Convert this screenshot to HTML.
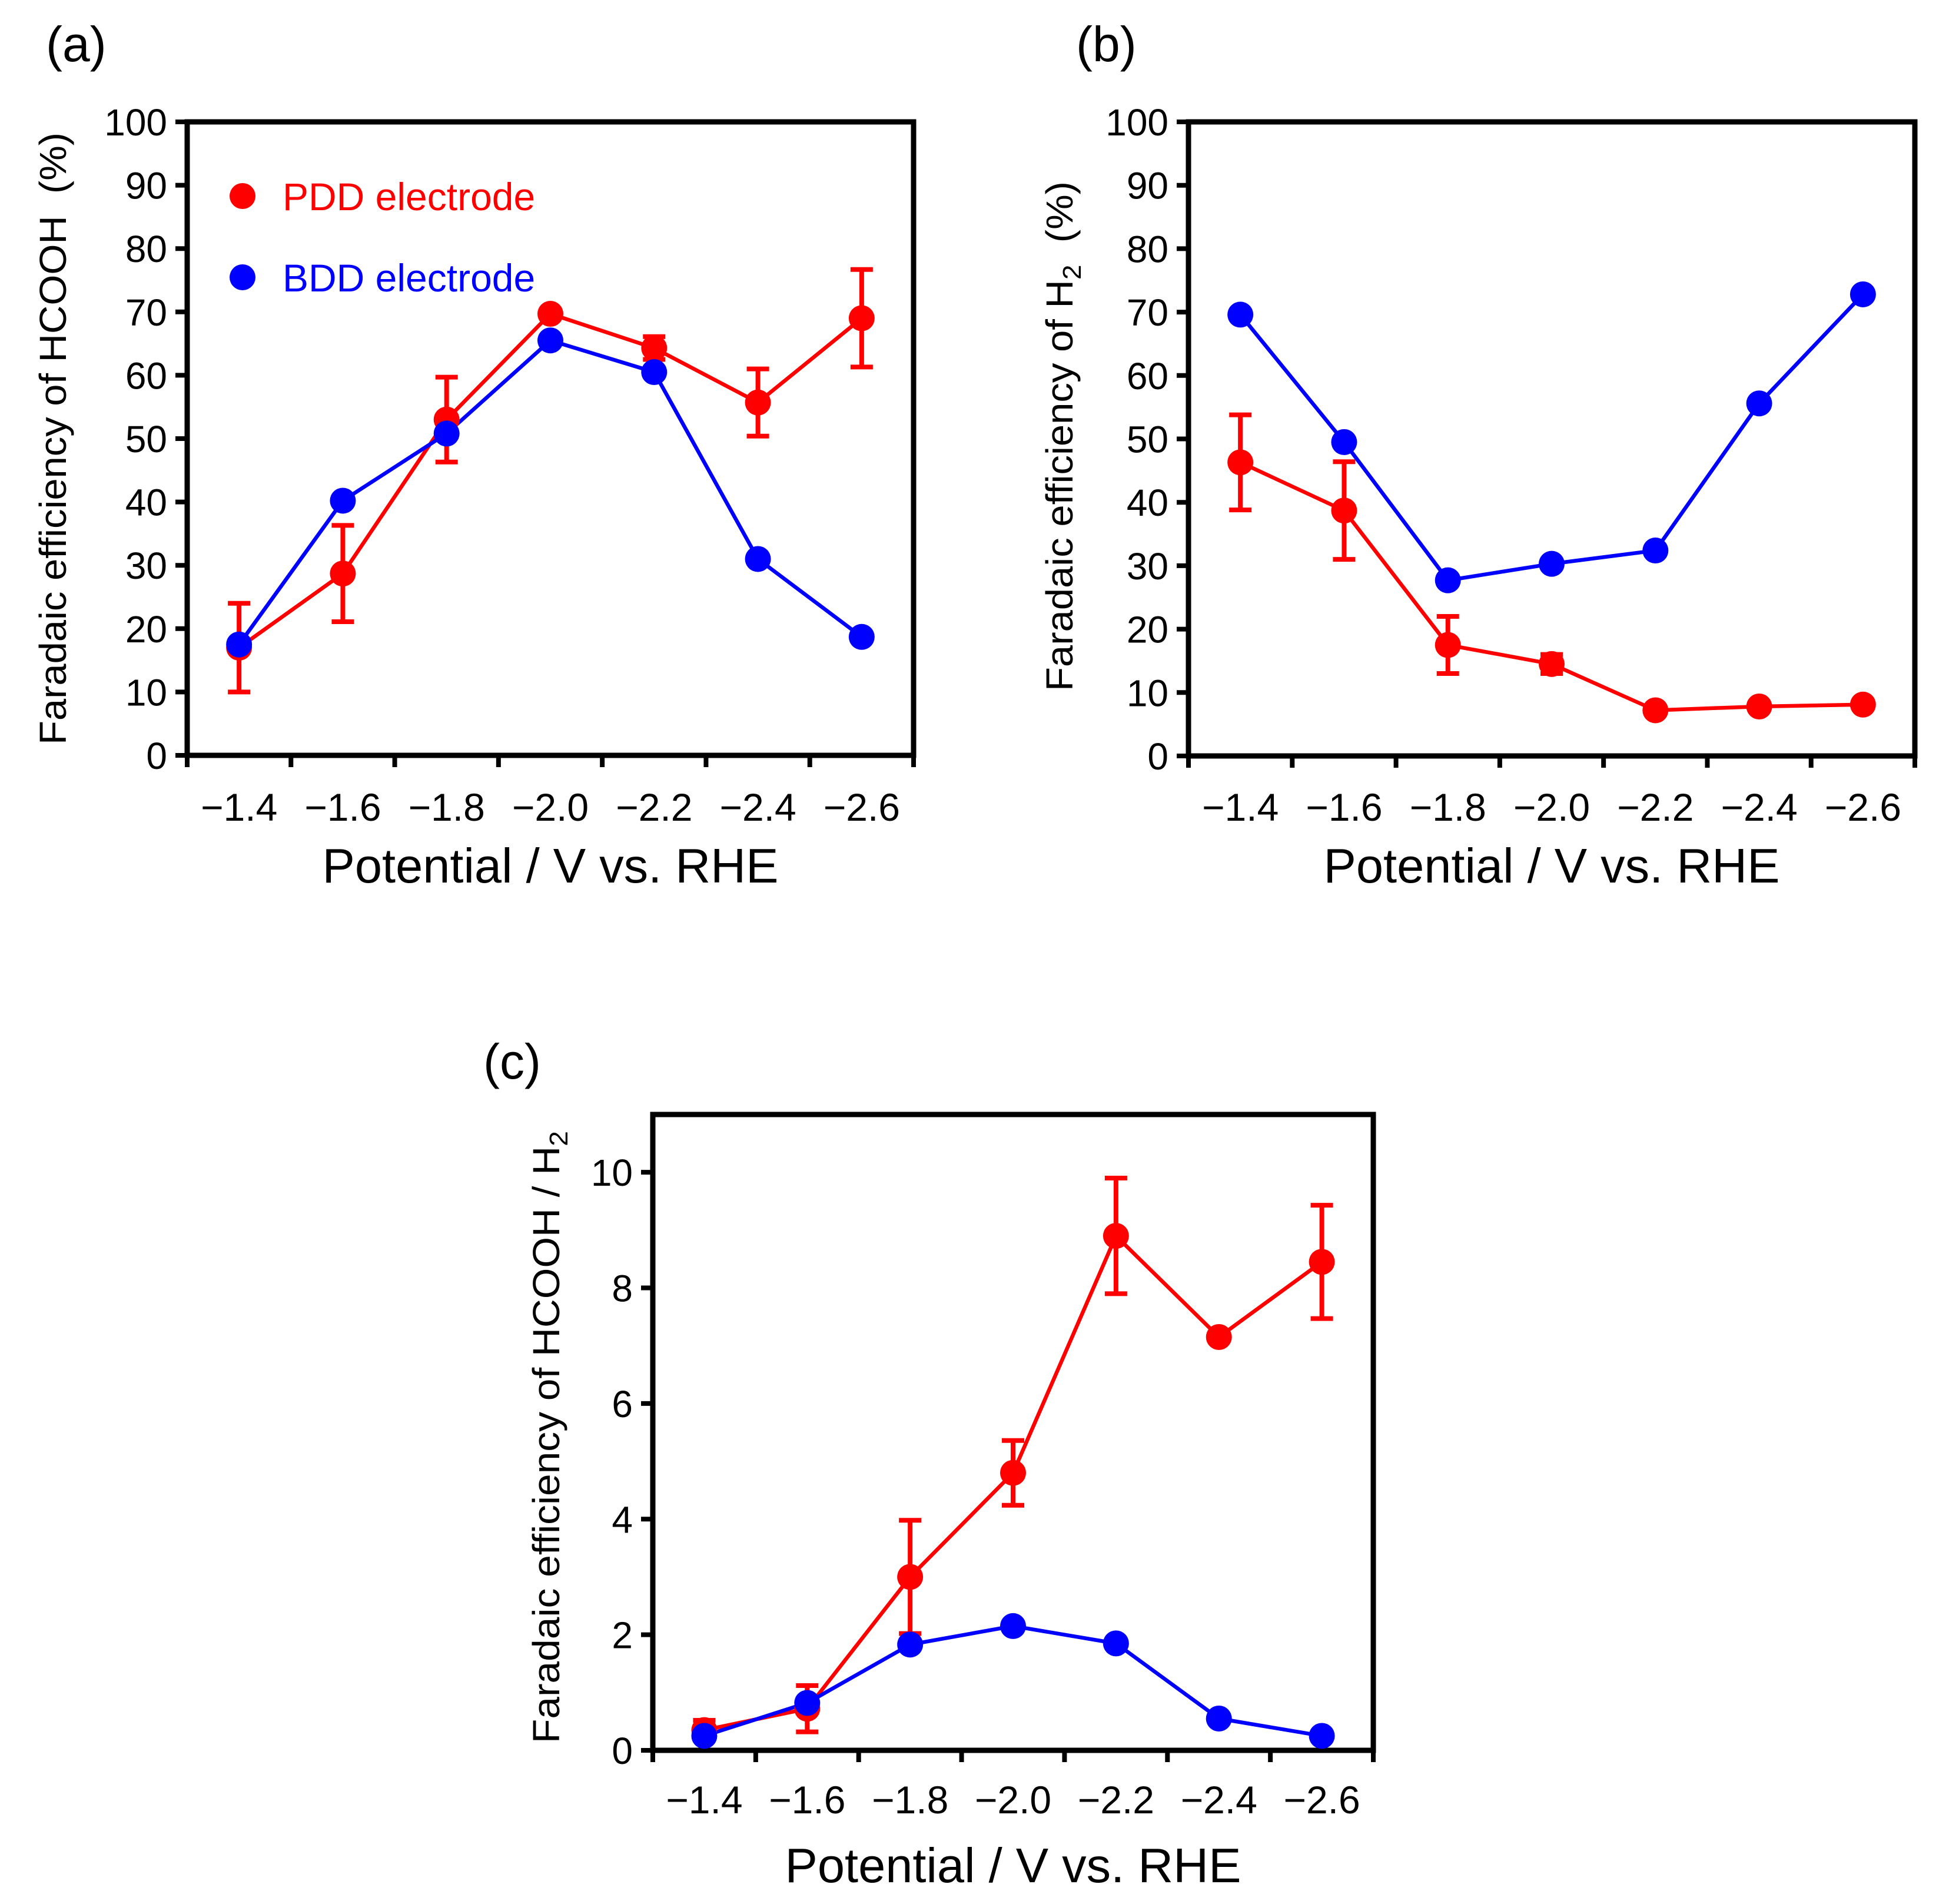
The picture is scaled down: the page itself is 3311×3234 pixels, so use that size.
<!DOCTYPE html>
<html><head><meta charset="utf-8"><style>
html,body{margin:0;padding:0;background:#fff;}
svg{display:block;font-family:"Liberation Sans",Arial,sans-serif;}
</style></head><body>
<svg id="fig" width="3311" height="3234" viewBox="0 0 3311 3234" xmlns="http://www.w3.org/2000/svg">
<text x="78" y="104" font-size="84">(a)</text>
<text x="1828" y="104" font-size="84">(b)</text>
<text x="821" y="1832" font-size="84">(c)</text>
<g>
<circle cx="412" cy="333" r="22" fill="#ff0000"/>
<text x="480" y="357" font-size="66" fill="#ff0000">PDD electrode</text>
<circle cx="412" cy="471" r="22" fill="#0000ff"/>
<text x="480" y="495" font-size="66" fill="#0000ff">BDD electrode</text>
</g>
</svg>
<script>
const categories = ["\u22121.4","\u22121.6","\u22121.8","\u22122.0","\u22122.2","\u22122.4","\u22122.6"];
const aPdd = [17, 28.7, 53, 69.7, 64.3, 55.7, 69];
const aPddErr = [7, 7.6, 6.7, 0.5, 1.8, 5.3, 7.7];
const aBdd = [17.5, 40.2, 50.8, 65.5, 60.5, 31, 18.7];
const bPdd = [46.3, 38.7, 17.5, 14.5, 7.2, 7.8, 8.1];
const bPddErr = [7.5, 7.7, 4.5, 1.5, 0.3, 0.3, 0.3];
const bBdd = [69.6, 49.5, 27.7, 30.3, 32.4, 55.6, 72.8];
const cPdd = [0.35, 0.72, 3.0, 4.8, 8.9, 7.15, 8.45];
const cPddErr = [0.17, 0.4, 0.98, 0.56, 1.0, 0.05, 0.98];
const cBdd = [0.25, 0.82, 1.83, 2.15, 1.85, 0.55, 0.25];
const ticksPct = [0,10,20,30,40,50,60,70,80,90,100];
const ticksRatio = [0,2,4,6,8,10];

const NS = "http://www.w3.org/2000/svg";
const svg = document.getElementById('fig');
function mk(tag, attrs, parent){
  const e = document.createElementNS(NS, tag);
  for (const k in attrs) e.setAttribute(k, attrs[k]);
  (parent||svg).appendChild(e);
  return e;
}
function panel(id, box, ymax, yticks, pdd, pddErr, bdd, ytitle, ytx, yty, ytLen, xlabY, xtitleY){
  const g = mk('g', {});
  
  
  const n = categories.length;
  const bw = (box.x1 - box.x0) / n;
  const xs = i => box.x0 + bw * (i + 0.5);
  const ys = v => box.y1 - (v / ymax) * (box.y1 - box.y0);
  yticks.forEach(t => {
    const y = ys(t);
    const tk = mk('line', {x1: box.x0 - 20, x2: box.x0, y1: y, y2: y, stroke: '#000', 'stroke-width': 8}, g);
    
    
    const tl = mk('text', {x: box.x0 - 34, y: y + 23, 'font-size': 64, 'text-anchor': 'end'}, g);
    
    
    tl.textContent = t;
  });
  for (let i = 0; i <= n; i++) {
    const x = box.x0 + bw * i;
    const tk = mk('line', {x1: x, x2: x, y1: box.y1, y2: box.y1 + 20, stroke: '#000', 'stroke-width': 8}, g);
    
    
  }
  categories.forEach((c, i) => {
    const tl = mk('text', {x: xs(i), y: xlabY, 'font-size': 66, 'text-anchor': 'middle'}, g);
    
    
    tl.textContent = c;
  });
  const frame = mk('rect', {x: box.x0, y: box.y0, width: box.x1 - box.x0, height: box.y1 - box.y0, fill: 'none', stroke: '#000', 'stroke-width': 9}, g);
  
  
  function series(vals, color, name){
    const pts = vals.map((v, i) => xs(i) + ',' + ys(v)).join(' ');
    const pl = mk('polyline', {points: pts, fill: 'none', stroke: color, 'stroke-width': 6.5}, g);
    
    
  }
  function markers(vals, color, name){
    vals.forEach((v, i) => {
      const c = mk('circle', {cx: xs(i), cy: ys(v), r: 22, fill: color}, g);
      
      
    });
  }
  pdd.forEach((v, i) => {
    const e = pddErr[i];
    const eg = mk('g', {stroke: '#ff0000', 'stroke-width': 8}, g);
    
    
    const x = xs(i);
    mk('line', {x1: x, x2: x, y1: ys(v - e), y2: ys(v + e)}, eg);
    mk('line', {x1: x - 19, x2: x + 19, y1: ys(v - e), y2: ys(v - e)}, eg);
    mk('line', {x1: x - 19, x2: x + 19, y1: ys(v + e), y2: ys(v + e)}, eg);
  });
  series(pdd, '#ff0000', 'pdd');
  series(bdd, '#0000ff', 'bdd');
  markers(pdd, '#ff0000', 'pdd');
  markers(bdd, '#0000ff', 'bdd');
  const xt = mk('text', {x: (box.x0 + box.x1) / 2, y: xtitleY, 'font-size': 83, 'text-anchor': 'middle'}, g);
  
  
  xt.textContent = 'Potential / V vs. RHE';
  const yt = mk('text', {x: 0, y: 0, 'font-size': 64, 'text-anchor': 'middle', transform: 'translate(' + ytx + ',' + yty + ') rotate(-90)', textLength: ytLen, lengthAdjust: 'spacingAndGlyphs'}, g);
  
  
  ytitle.forEach(part => {
    const ts = mk('tspan', part.sub ? {'font-size': 44, dy: 14} : (part.after ? {dy: -14} : {}), yt);
    ts.textContent = part.t;
  });
}
panel('a', {x0: 318, x1: 1552, y0: 207, y1: 1283}, 100, ticksPct, aPdd, aPddErr, aBdd,
  [{t: 'Faradaic efficiency of HCOOH\u00a0\u00a0(%)'}], 112, 745, 1040, 1394, 1499);
panel('b', {x0: 2019, x1: 3253, y0: 207, y1: 1284}, 100, ticksPct, bPdd, bPddErr, bBdd,
  [{t: 'Faradaic efficiency of H'}, {t: '2', sub: true}, {t: '\u00a0\u00a0(%)', after: true}], 1822, 741, 866, 1394, 1499);
panel('c', {x0: 1109, x1: 2333, y0: 1893, y1: 2973}, 11, ticksRatio, cPdd, cPddErr, cBdd,
  [{t: 'Faradaic efficiency of HCOOH / H'}, {t: '2', sub: true}], 950, 2441, 1040, 3080, 3197);
</script>
</body></html>
